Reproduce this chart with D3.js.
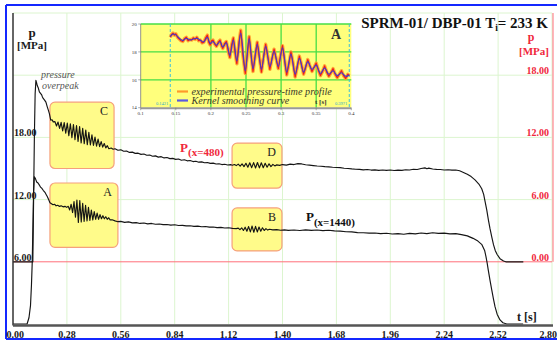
<!DOCTYPE html>
<html>
<head>
<meta charset="utf-8">
<script src="https://cdn.jsdelivr.net/npm/d3@7"></script>
<style>
  html, body { margin: 0; padding: 0; background: #fff; }
  svg { display: block; }
  text { font-family: "Liberation Serif", "Times New Roman", serif; }
</style>
</head>
<body>
<svg id="chart" width="557" height="342"></svg>
<script>
// ---- main chart data -------------------------------------------------
const timeTicks = [0, 0.28, 0.56, 0.84, 1.12, 1.40, 1.68, 1.96, 2.24, 2.52, 2.80];
const leftTicks = [6, 12, 18];          // left axis (P at x=1440)
const rightTicks = [0, 6, 12, 18];      // right axis (P at x=480)
const gridLevels = [12, 18, 24, 30];    // horizontal grid, left-axis MPa

// P(x=480) : time [s], pressure [MPa] on the right axis
const pressureX480 = [
  [0,0],[0.103,0],[0.107,6.0],[0.111,12.0],[0.115,16.2],[0.119,17.5],[0.122,17.3],[0.126,17.0],
  [0.131,16.8],[0.137,16.4],[0.143,16.25],[0.149,16.1],[0.153,15.9],[0.157,15.76],[0.164,15.6],
  [0.171,15.4],[0.178,14.95],[0.184,14.6],[0.189,14.3],[0.196,13.66],[0.203,13.7],[0.209,13.5],
  [0.218,13.52],[0.226,13.10],[0.234,13.48],[0.242,12.87],[0.250,13.45],[0.258,12.63],[0.266,13.42],
  [0.274,12.40],[0.282,13.38],[0.290,12.16],[0.298,13.32],[0.306,11.98],[0.314,13.24],[0.322,11.79],
  [0.330,13.15],[0.338,11.61],[0.346,13.04],[0.354,11.47],[0.362,12.88],[0.370,11.39],[0.378,12.70],
  [0.386,11.30],[0.394,12.49],[0.402,11.27],[0.410,12.25],[0.418,11.23],[0.426,12.04],[0.434,11.15],
  [0.442,11.83],[0.450,11.11],[0.458,11.60],[0.466,11.06],[0.474,11.41],[0.482,10.99],[0.490,11.20],
  [0.498,10.91],[0.510,10.98],[0.520,10.86],[0.530,10.90],[0.545,10.76],[0.560,10.80],[0.575,10.66],
  [0.590,10.68],[0.605,10.55],[0.620,10.58],[0.635,10.46],[0.650,10.48],[0.665,10.36],[0.680,10.40],
  [0.695,10.28],[0.710,10.30],[0.725,10.18],[0.740,10.22],[0.755,10.10],[0.770,10.14],[0.785,10.02],
  [0.800,10.06],[0.815,9.95],[0.830,9.98],[0.845,9.88],[0.860,9.92],[0.875,9.80],[0.890,9.84],
  [0.905,9.74],[0.920,9.77],[0.935,9.67],[0.950,9.70],[0.965,9.61],[0.980,9.64],[0.995,9.55],
  [1.010,9.58],[1.025,9.49],[1.040,9.52],[1.055,9.43],[1.070,9.46],[1.085,9.38],[1.100,9.41],
  [1.115,9.34],[1.130,9.37],[1.140,9.32],[1.150,9.38],[1.160,9.28],[1.170,9.42],[1.180,9.22],
  [1.190,9.45],[1.200,9.18],[1.210,9.50],[1.220,9.12],[1.230,9.55],[1.240,9.08],[1.250,9.57],
  [1.260,9.05],[1.270,9.58],[1.280,9.06],[1.290,9.55],[1.300,9.08],[1.310,9.50],[1.320,9.12],
  [1.330,9.45],[1.340,9.18],[1.350,9.40],[1.360,9.25],[1.370,9.35],[1.385,9.30],[1.400,9.38],
  [1.420,9.33],[1.440,9.42],[1.460,9.38],[1.480,9.47],[1.500,9.44],[1.520,9.36],[1.540,9.32],
  [1.560,9.28],[1.580,9.24],[1.600,9.22],[1.620,9.18],[1.640,9.16],[1.660,9.12],[1.680,9.10],
  [1.700,9.08],[1.720,9.02],[1.740,9.00],[1.760,8.96],[1.780,8.93],[1.800,8.91],[1.820,8.87],
  [1.840,8.90],[1.860,8.85],[1.880,8.87],[1.900,8.82],[1.920,8.86],[1.940,8.82],[1.960,8.86],
  [1.980,8.81],[2.000,8.85],[2.020,8.82],[2.040,8.88],[2.060,8.86],[2.080,8.93],[2.100,8.90],
  [2.120,9.00],[2.140,9.06],[2.150,8.98],[2.160,9.04],[2.180,8.95],[2.200,8.92],[2.220,8.90],
  [2.240,8.86],[2.260,8.88],[2.280,8.84],[2.300,8.85],[2.320,8.78],[2.340,8.62],[2.360,8.45],
  [2.380,8.22],[2.400,7.90],[2.420,7.50],[2.435,7.05],[2.445,6.50],[2.453,5.75],[2.461,5.00],
  [2.470,4.00],[2.478,3.20],[2.487,2.40],[2.496,1.65],[2.505,1.10],[2.515,0.70],[2.530,0.30],
  [2.548,0.08],[2.560,0],[2.651,0]
];

// P(x=1440) : time [s], pressure [MPa] on the left axis
const pressureX1440 = [
  [0,0],[0.073,0],[0.083,0.6],[0.091,1.8],[0.096,3.8],[0.100,6.0],[0.104,10.0],[0.107,12.9],
  [0.111,14.2],[0.117,14.0],[0.123,13.7],[0.130,13.6],[0.137,13.4],[0.143,13.2],[0.149,13.1],
  [0.157,12.9],[0.166,12.7],[0.172,12.5],[0.178,12.3],[0.185,12.0],[0.192,11.7],[0.200,11.6],
  [0.208,11.5],[0.216,11.55],[0.224,11.4],[0.232,11.45],[0.240,11.35],[0.250,11.4],[0.260,11.3],
  [0.270,11.35],[0.279,11.25],
  [0.2870,11.35],[0.2945,11.00],[0.3020,11.55],[0.3095,10.75],[0.3170,11.80],[0.3245,10.30],
  [0.3320,11.95],[0.3395,9.80],[0.3470,11.90],[0.3545,9.85],[0.3620,11.65],[0.3695,9.90],
  [0.3770,11.45],[0.3845,9.95],[0.3920,11.25],[0.3995,10.00],[0.4070,11.00],[0.4145,10.05],
  [0.4220,10.85],[0.4295,10.10],[0.4370,10.70],[0.4445,10.10],[0.4520,10.55],[0.4595,10.15],
  [0.4670,10.45],[0.4745,10.15],[0.4820,10.35],[0.4895,10.10],[0.4970,10.25],[0.5045,10.05],
  [0.515,10.05],[0.530,9.95],[0.545,9.87],[0.56,9.9],[0.58,9.8],[0.60,9.85],[0.62,9.75],
  [0.64,9.78],[0.66,9.7],[0.68,9.74],[0.70,9.66],[0.72,9.7],[0.74,9.62],[0.76,9.65],[0.78,9.58],
  [0.80,9.6],[0.82,9.54],[0.84,9.57],[0.86,9.5],[0.88,9.52],[0.90,9.46],[0.92,9.48],[0.94,9.42],
  [0.96,9.44],[0.98,9.38],[1.00,9.4],[1.02,9.34],[1.04,9.36],[1.06,9.3],[1.08,9.32],[1.10,9.26],
  [1.12,9.28],[1.14,9.22],[1.16,9.2],
  [1.170,9.25],[1.179,9.10],[1.188,9.28],[1.197,9.02],[1.206,9.34],[1.215,8.95],[1.224,9.40],
  [1.233,8.88],[1.242,9.45],[1.251,8.85],[1.260,9.42],[1.269,8.88],[1.278,9.36],[1.287,8.95],
  [1.296,9.28],[1.305,9.02],[1.314,9.20],[1.323,9.06],[1.332,9.14],
  [1.35,9.08],[1.37,9.1],[1.39,9.04],[1.41,9.08],[1.43,9.03],[1.46,9.07],[1.49,9.02],[1.52,9.08],
  [1.55,9.03],[1.58,9.07],[1.61,9.01],[1.64,9.04],[1.67,8.98],[1.70,8.96],[1.73,8.9],[1.76,8.88],
  [1.79,8.82],[1.82,8.8],[1.85,8.76],[1.88,8.78],[1.91,8.72],[1.94,8.75],[1.97,8.68],[2.00,8.72],
  [2.03,8.66],[2.06,8.74],[2.09,8.7],[2.12,8.78],[2.15,8.72],[2.18,8.8],[2.21,8.74],[2.24,8.76],
  [2.27,8.7],[2.30,8.72],[2.33,8.62],[2.36,8.5],[2.39,8.26],[2.415,8.0],[2.436,7.65],[2.450,7.1],
  [2.457,6.5],[2.463,5.9],[2.469,5.2],[2.478,4.2],[2.487,3.3],[2.496,2.4],[2.504,1.67],
  [2.515,0.95],[2.530,0.39],[2.545,0.12],[2.565,0],[2.65,0]
];

// highlighted zones: label, time span [s], pressure span (left-axis MPa)
const zoneLabels = ["C", "A", "D", "B"];
const zoneTimes = [[0.192, 0.525], [0.192, 0.545], [1.138, 1.397], [1.138, 1.397]];
const zonePressures = [[15.0, 21.4], [7.4, 13.6], [13.1, 17.45], [7.05, 11.2]];

// ---- inset data (zone A close-up) -------------------------------------
const insetTimeTicks = [0.1, 0.15, 0.2, 0.25, 0.3, 0.35, 0.4];
const insetPressureTicks = [14, 16, 18, 20];
const insetWindow = [0.1421, 0.3971];

const kernelCurve = [
  [0.1421,19.10],[0.1460,19.28],[0.1500,19.22],[0.1550,18.98],[0.1600,18.82],[0.1650,18.98],
  [0.1700,18.85],[0.1750,18.92],[0.1800,18.98],[0.1850,18.84],[0.1900,18.72],[0.1950,19.05],
  [0.1990,18.60],[0.2030,18.75],[0.2080,18.48],[0.2130,18.75],[0.2170,18.35],[0.2220,18.65],
  [0.2270,17.75],[0.2320,18.85],[0.2370,17.35],[0.2425,19.35],[0.2490,16.65],[0.2545,18.95],
  [0.2600,16.80],[0.2660,18.55],[0.2720,16.75],[0.2780,18.40],[0.2840,16.95],[0.2900,18.05],
  [0.2960,16.95],[0.3020,18.30],[0.3080,16.55],[0.3140,17.85],[0.3200,16.40],[0.3260,17.55],
  [0.3320,16.55],[0.3380,17.30],[0.3440,16.75],[0.3500,17.05],[0.3560,16.45],[0.3620,16.85],
  [0.3680,16.40],[0.3740,16.65],[0.3800,16.30],[0.3860,16.50],[0.3920,16.25],[0.3971,16.35]
];

const experimentalCurve = [
  [0.1421,19.05],[0.1440,19.25],[0.1460,19.35],[0.1480,19.20],[0.1500,19.30],[0.1525,19.05],
  [0.1550,18.92],[0.1575,18.80],[0.1600,18.75],[0.1625,18.95],[0.1650,19.05],[0.1675,18.80],
  [0.1700,18.90],[0.1725,18.85],[0.1750,19.00],[0.1775,18.90],[0.1800,19.05],[0.1825,18.80],
  [0.1850,18.85],[0.1875,18.65],[0.1900,18.70],[0.1925,19.00],[0.1950,19.20],[0.1970,18.70],
  [0.1990,18.50],[0.2010,18.80],[0.2030,18.85],[0.2055,18.55],[0.2080,18.40],[0.2105,18.70],
  [0.2130,18.85],[0.2150,18.45],[0.2170,18.25],[0.2195,18.60],[0.2220,18.75],[0.2245,18.10],
  [0.2270,17.60],[0.2295,18.50],[0.2320,19.00],[0.2345,17.90],[0.2370,17.15],[0.2400,18.70],
  [0.2425,19.55],[0.2455,17.80],[0.2490,16.45],[0.2520,17.90],[0.2545,19.10],[0.2570,17.90],
  [0.2600,16.60],[0.2630,17.70],[0.2660,18.70],[0.2690,17.60],[0.2720,16.55],[0.2750,17.60],
  [0.2780,18.55],[0.2810,17.70],[0.2840,16.75],[0.2870,17.50],[0.2900,18.20],[0.2930,17.50],
  [0.2960,16.80],[0.2990,17.70],[0.3020,18.45],[0.3050,17.40],[0.3080,16.35],[0.3110,17.10],
  [0.3140,18.00],[0.3170,17.20],[0.3200,16.20],[0.3230,16.90],[0.3260,17.70],[0.3290,17.10],
  [0.3320,16.40],[0.3350,16.90],[0.3380,17.45],[0.3410,17.00],[0.3440,16.60],[0.3470,16.90],
  [0.3500,17.20],[0.3530,16.70],[0.3560,16.30],[0.3590,16.60],[0.3620,17.00],[0.3650,16.55],
  [0.3680,16.25],[0.3710,16.50],[0.3740,16.80],[0.3770,16.40],[0.3800,16.15],[0.3830,16.40],
  [0.3860,16.65],[0.3890,16.30],[0.3920,16.10],[0.3950,16.40],[0.3971,16.30]
];

// ---- drawing ------------------------------------------------------------
const svg = d3.select("#chart");

const x = d3.scaleLinear().domain([0, 2.8]).range([13, 552]);
const yL = d3.scaleLinear().domain([0, 30]).range([324, 13]);
const yR = d3.scaleLinear().domain([-6, 24]).range([324, 13]);

const fmt = d3.format(".2f");
const gridColor = "#dcf5cf";
const red = "#f0283c";

// blue outer frame
const frame = svg.append("g").attr("stroke", "#1428ff").attr("stroke-width", 2).attr("fill", "none");
frame.append("line").attr("x1", 6).attr("x2", 557).attr("y1", 5).attr("y2", 5);
frame.append("line").attr("x1", 6).attr("x2", 6).attr("y1", 5).attr("y2", 339);
frame.append("line").attr("x1", 6).attr("x2", 557).attr("y1", 339).attr("y2", 339);

// grid
const grid = svg.append("g").attr("stroke", gridColor).attr("stroke-width", 1);
grid.selectAll("line.v").data(timeTicks.slice(1)).join("line")
  .attr("x1", d => x(d)).attr("x2", d => x(d))
  .attr("y1", yL(30)).attr("y2", yL(0));
grid.selectAll("line.h").data(gridLevels).join("line")
  .attr("x1", x(0)).attr("x2", x(2.8))
  .attr("y1", d => yL(d)).attr("y2", d => yL(d));

// zero line of the right axis and the right axis itself
svg.append("line").attr("x1", x(0)).attr("x2", x(2.8))
  .attr("y1", yR(0)).attr("y2", yR(0))
  .attr("stroke", "#ff6f7a").attr("stroke-width", 1);
svg.append("line").attr("x1", x(2.8) + 1).attr("x2", x(2.8) + 1)
  .attr("y1", yR(24)).attr("y2", yR(0))
  .attr("stroke", "#ff6f7a").attr("stroke-width", 1);

// highlighted zones
const zones = zoneLabels.map((lab, i) => ({ lab, t: zoneTimes[i], p: zonePressures[i] }));
const zg = svg.append("g");
zg.selectAll("rect").data(zones).join("rect")
  .attr("x", d => x(d.t[0])).attr("y", d => yL(d.p[1]))
  .attr("width", d => x(d.t[1]) - x(d.t[0]))
  .attr("height", d => yL(d.p[0]) - yL(d.p[1]))
  .attr("rx", 5).attr("ry", 5)
  .attr("fill", "#fffb8a").attr("stroke", "#f6a07c").attr("stroke-width", 1.2);
zg.selectAll("text").data(zones).join("text")
  .attr("x", d => x(d.t[1]) - 6).attr("y", d => yL(d.p[1]) + 13)
  .attr("text-anchor", "end")
  .attr("font-size", 12).attr("fill", "#222")
  .text(d => d.lab);

// pressure curves
const lineL = d3.line().x(d => x(d[0])).y(d => yL(d[1]));
const lineR = d3.line().x(d => x(d[0])).y(d => yR(d[1]));
svg.append("path").attr("d", lineR(pressureX480))
  .attr("fill", "none").attr("stroke", "#151515").attr("stroke-width", 1.15).attr("stroke-linejoin", "round");
svg.append("path").attr("d", lineL(pressureX1440))
  .attr("fill", "none").attr("stroke", "#151515").attr("stroke-width", 1.15).attr("stroke-linejoin", "round");

// axes lines
svg.append("line").attr("x1", x(0)).attr("x2", x(0)).attr("y1", yL(30)).attr("y2", yL(0) + 1.5)
  .attr("stroke", "#333").attr("stroke-width", 1.5);
svg.append("line").attr("x1", x(0)).attr("x2", 553).attr("y1", yL(0) + 1.5).attr("y2", yL(0) + 1.5)
  .attr("stroke", "#555").attr("stroke-width", 2.5);

// x tick labels
svg.append("g").selectAll("text").data(timeTicks).join("text")
  .attr("x", (d, i) => i === 0 ? x(d) - 6.5 : (i === timeTicks.length - 1 ? x(d) + 5 : x(d)))
  .attr("y", 338)
  .attr("text-anchor", (d, i) => i === 0 ? "start" : (i === timeTicks.length - 1 ? "end" : "middle"))
  .attr("font-size", 10).attr("font-weight", "bold").attr("fill", "#1a1a1a")
  .text(d => fmt(d));

// left tick labels
svg.append("g").selectAll("text").data(leftTicks).join("text")
  .attr("x", x(0) + 1).attr("y", d => yL(d) - 1)
  .attr("font-size", 10).attr("font-weight", "bold").attr("fill", "#1a1a1a")
  .text(d => fmt(d));

// right tick labels
svg.append("g").selectAll("text").data(rightTicks).join("text")
  .attr("x", 549).attr("y", d => yR(d) - 1)
  .attr("text-anchor", "end")
  .attr("font-size", 10).attr("font-weight", "bold").attr("fill", red)
  .text(d => fmt(d));

// axis titles
svg.append("text").attr("x", 32).attr("y", 37).attr("text-anchor", "middle")
  .attr("font-size", 13).attr("font-weight", "bold").attr("fill", "#1a1a1a").text("p");
svg.append("text").attr("x", 32).attr("y", 49).attr("text-anchor", "middle")
  .attr("font-size", 11).attr("font-weight", "bold").attr("fill", "#1a1a1a").text("[MPa]");
svg.append("text").attr("x", 531).attr("y", 40.5).attr("text-anchor", "middle")
  .attr("font-size", 12).attr("font-weight", "bold").attr("fill", red).text("p");
svg.append("text").attr("x", 549).attr("y", 55).attr("text-anchor", "end")
  .attr("font-size", 11).attr("font-weight", "bold").attr("fill", red).text("[MPa]");
svg.append("text").attr("x", 517).attr("y", 321)
  .attr("font-size", 12).attr("font-weight", "bold").attr("fill", "#1a1a1a").text("t [s]");

// title
const title = svg.append("text").attr("x", 548).attr("y", 28).attr("text-anchor", "end")
  .attr("font-size", 15).attr("font-weight", "bold").attr("fill", "#111");
title.append("tspan").text("SPRM-01/ DBP-01 T");
title.append("tspan").attr("font-size", 9.5).attr("dy", 2.5).text("i");
title.append("tspan").attr("dy", -2.5).text("= 233 K");

// peak note
const note = svg.append("g").attr("font-size", 10).attr("font-style", "italic").attr("fill", "#555");
note.append("text").attr("x", 41).attr("y", 78).text("pressure");
note.append("text").attr("x", 42).attr("y", 89).text("overpeak");

// curve labels
const l480 = svg.append("text").attr("x", x(0.868)).attr("y", 151.5)
  .attr("font-weight", "bold").attr("fill", red).attr("font-size", 13);
l480.append("tspan").text("P");
l480.append("tspan").attr("font-size", 11).attr("dy", 4.5).text("(x=480)");
const l1440 = svg.append("text").attr("x", x(1.522)).attr("y", 220.5)
  .attr("font-weight", "bold").attr("fill", "#111").attr("font-size", 13);
l1440.append("tspan").text("P");
l1440.append("tspan").attr("font-size", 11).attr("dy", 5).text("(x=1440)");

// ---- inset -----------------------------------------------------------------
const ix = d3.scaleLinear().domain([0.1, 0.4]).range([140.7, 351.3]);
const iy = d3.scaleLinear().domain([14, 20]).range([107.7, 24]);
const inset = svg.append("g");

inset.append("rect").attr("x", ix(0.1)).attr("y", iy(20))
  .attr("width", ix(0.4) - ix(0.1)).attr("height", iy(14) - iy(20))
  .attr("fill", "#ffff7c");

// green grid
const ig = inset.append("g").attr("stroke", "#46de46").attr("stroke-width", 1.3);
ig.selectAll("line.v").data(insetTimeTicks.slice(2, 6)).join("line")
  .attr("x1", d => ix(d)).attr("x2", d => ix(d)).attr("y1", iy(20)).attr("y2", iy(14));
ig.selectAll("line.h").data([16, 18, 20]).join("line")
  .attr("x1", ix(0.1)).attr("x2", ix(0.4)).attr("y1", d => iy(d)).attr("y2", d => iy(d));

// window markers
inset.selectAll("line.win").data(insetWindow).join("line")
  .attr("x1", d => ix(d)).attr("x2", d => ix(d)).attr("y1", iy(20)).attr("y2", iy(14))
  .attr("stroke", "#3cc0dc").attr("stroke-width", 1).attr("stroke-dasharray", "3,2");
inset.selectAll("text.win").data(insetWindow).join("text")
  .attr("x", d => ix(d) - 2).attr("y", iy(14) - 2.5).attr("text-anchor", "end")
  .attr("font-size", 4.5).attr("fill", "#2aaad0").text(d => d.toFixed(4));

// axes
inset.append("line").attr("x1", ix(0.1)).attr("x2", ix(0.1)).attr("y1", iy(20)).attr("y2", iy(14))
  .attr("stroke", "#777").attr("stroke-width", 0.8);
inset.append("line").attr("x1", ix(0.1)).attr("x2", ix(0.4)).attr("y1", iy(14) + 0.5).attr("y2", iy(14) + 0.5)
  .attr("stroke", "#999").attr("stroke-width", 2);
inset.selectAll("line.yt").data(insetPressureTicks).join("line")
  .attr("x1", ix(0.1) - 2.5).attr("x2", ix(0.1)).attr("y1", d => iy(d)).attr("y2", d => iy(d))
  .attr("stroke", "#777").attr("stroke-width", 0.6);
inset.selectAll("line.xt").data(insetTimeTicks).join("line")
  .attr("x1", d => ix(d)).attr("x2", d => ix(d)).attr("y1", iy(14)).attr("y2", iy(14) + 2.5)
  .attr("stroke", "#777").attr("stroke-width", 0.6);
inset.selectAll("text.yl").data(insetPressureTicks).join("text")
  .attr("x", ix(0.1) - 4).attr("y", d => iy(d) + 1.7).attr("text-anchor", "end")
  .attr("font-size", 5).attr("fill", "#333").text(d => d);
inset.selectAll("text.xl").data(insetTimeTicks).join("text")
  .attr("x", d => ix(d)).attr("y", iy(14) + 7.5).attr("text-anchor", "middle")
  .attr("font-size", 5).attr("fill", "#333").text(d => d);

// curves
const iline = d3.line().x(d => ix(d[0])).y(d => iy(d[1]));
inset.append("path").attr("d", iline(experimentalCurve))
  .attr("fill", "none").attr("stroke", "#ff9a2a").attr("stroke-width", 3.4)
  .attr("stroke-opacity", 0.85).attr("stroke-linejoin", "round");
inset.append("path").attr("d", iline(experimentalCurve))
  .attr("fill", "none").attr("stroke", "#ee1c1c").attr("stroke-width", 1.2).attr("stroke-linejoin", "round");
inset.append("path").attr("d", iline.curve(d3.curveCatmullRom)(kernelCurve))
  .attr("fill", "none").attr("stroke", "#3b3bd0").attr("stroke-width", 1.1);

// legend
inset.append("line").attr("x1", 177).attr("x2", 188).attr("y1", 91.5).attr("y2", 91.5)
  .attr("stroke", "#ff9a2a").attr("stroke-width", 2.2);
inset.append("line").attr("x1", 177).attr("x2", 188).attr("y1", 100.5).attr("y2", 100.5)
  .attr("stroke", "#5a5ae0").attr("stroke-width", 2.2);
inset.append("text").attr("x", 191.5).attr("y", 94.5)
  .attr("font-size", 10.2).attr("font-style", "italic").attr("fill", "#3a3a2a")
  .text("experimental pressure-time profile");
inset.append("text").attr("x", 191.5).attr("y", 104)
  .attr("font-size", 10.2).attr("font-style", "italic").attr("fill", "#3a3a2a")
  .text("Kernel smoothing curve");
inset.append("text").attr("x", 315).attr("y", 103.5)
  .attr("font-size", 7).attr("font-weight", "bold").attr("fill", "#333").text("t [s]");
inset.append("text").attr("x", 341).attr("y", 39)
  .attr("text-anchor", "end").attr("font-size", 14).attr("font-weight", "bold").attr("fill", "#333").text("A");
</script>
</body>
</html>
